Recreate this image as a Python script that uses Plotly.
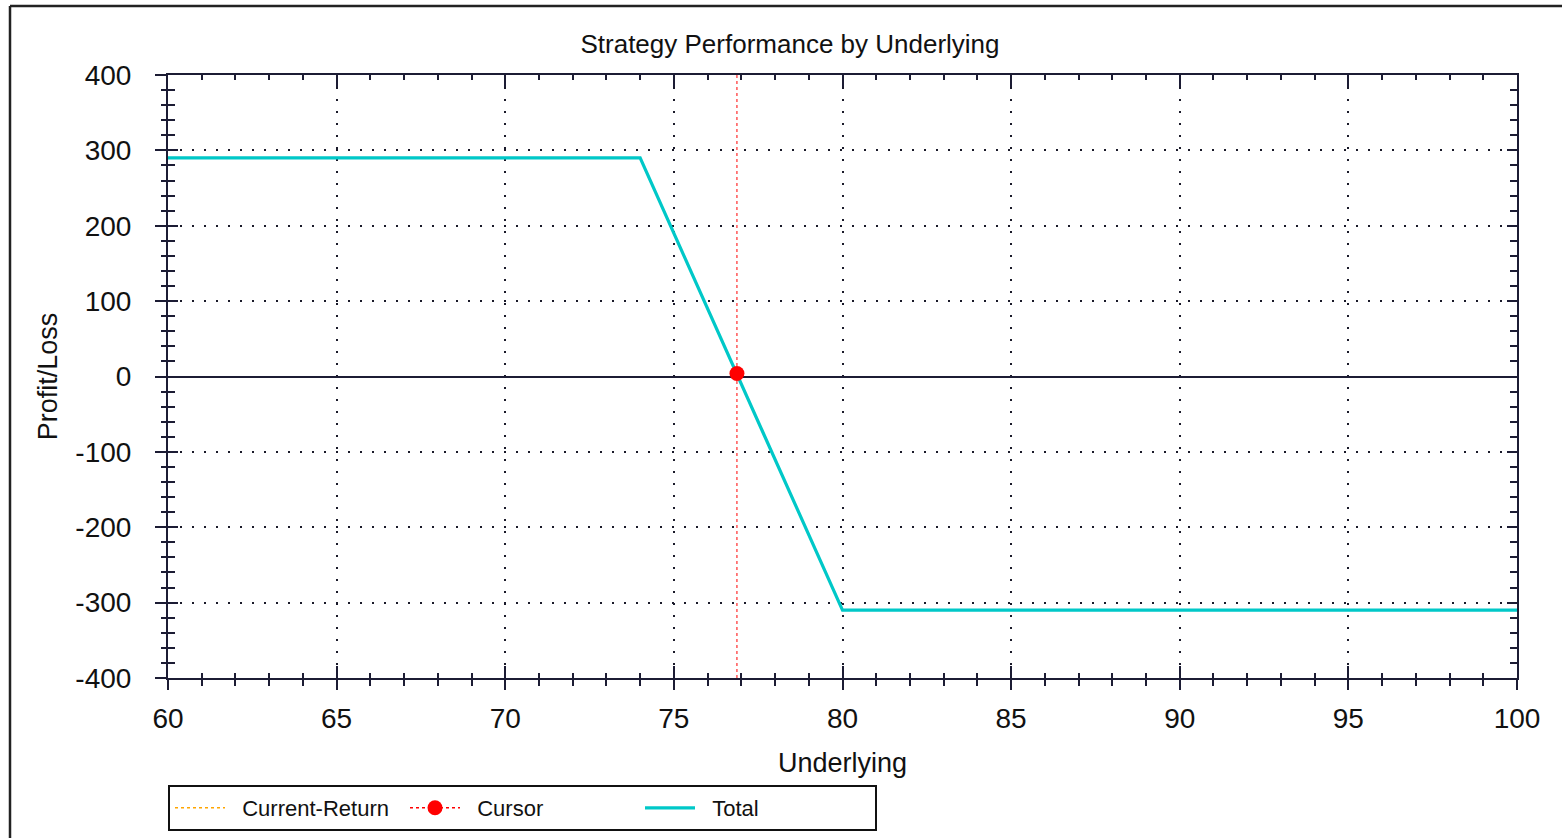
import plotly.graph_objects as go

# ---- data ----
total_x = [60, 74, 80, 100]
total_y = [290, 290, -310, -310]
cursor_x = [76.87]
cursor_y = [4]
cursor_line_y = [-400, 400]
x_ticks = [60, 65, 70, 75, 80, 85, 90, 95, 100]
y_ticks = [-400, -300, -200, -100, 0, 100, 200, 300, 400]
y_tick_text = ["-400", "-300", "-200", "-100", "0", "100", "200", "300", "400"]

FONT = "Liberation Sans, Arial, sans-serif"
AX = "#1c1c34"
PAD = "\u00a0\u00a0"

fig = go.Figure()

fig.add_trace(go.Scatter(x=[None], y=[None], mode="lines", name=PAD + "Current-Return",
                         line=dict(color="#ffa500", width=1.5, dash="dot"), legendrank=1))
fig.add_trace(go.Scatter(x=[cursor_x[0], cursor_x[0]], y=cursor_line_y, mode="lines",
                         line=dict(color="#ff0000", width=1, dash="dot"), showlegend=False,
                         hoverinfo="skip"))
fig.add_trace(go.Scatter(x=total_x, y=total_y, mode="lines", name=PAD + "Total",
                         line=dict(color="#00c8c8", width=3.2), legendrank=3))
fig.add_trace(go.Scatter(x=cursor_x, y=cursor_y, mode="lines+markers", name=PAD + "Cursor",
                         line=dict(color="#ff0000", width=1.5, dash="dot"),
                         marker=dict(color="#ff0000", size=15, symbol="circle"), legendrank=2))
# invisible trace for overlay axes
fig.add_trace(go.Scatter(x=[None], y=[None], xaxis="x2", yaxis="y2", showlegend=False,
                         hoverinfo="skip"))

fig.update_layout(
    width=1562, height=838,
    paper_bgcolor="white", plot_bgcolor="white",
    margin=dict(l=168, r=45, t=75, b=160, autoexpand=False),
    font=dict(family=FONT, color="#111111"),
    title=dict(text="Strategy Performance by Underlying", x=790/1562, xref="container",
               xanchor="center", y=1 - 44/838, yanchor="middle",
               font=dict(size=26, color="#111111")),
    showlegend=True,
    legend=dict(orientation="h", x=0, xanchor="left", y=-(785-678)/603, yanchor="top",
                bordercolor="#111111", borderwidth=2, font=dict(size=22),
                entrywidth=170, entrywidthmode="pixels", itemwidth=50, traceorder="normal"),
    xaxis=dict(range=[60, 100], tickvals=x_ticks, ticks="outside", ticklen=10,
               tickwidth=1.5, tickcolor=AX, showline=True, linecolor=AX, linewidth=2,
               minor=dict(ticks="outside", ticklen=6, dtick=1, tickwidth=1.5, tickcolor=AX,
                          showgrid=False),
               showgrid=True, gridcolor="#1a1a2a", gridwidth=1.5, griddash="2px,10px",
               zeroline=False, tickfont=dict(size=28), ticklabelstandoff=4,
               automargin=False,
               title=dict(text="Underlying", font=dict(size=27), standoff=21)),
    xaxis2=dict(range=[60, 100], overlaying="x", anchor="y", side="bottom", matches="x",
                tickvals=x_ticks, ticks="inside", ticklen=12, tickwidth=1.5, tickcolor=AX,
                showticklabels=False, showgrid=False, zeroline=False, mirror="ticks",
                showline=True, linecolor=AX, linewidth=2, automargin=False,
                minor=dict(ticks="inside", ticklen=5, dtick=1, tickwidth=1.5, tickcolor=AX)),
    yaxis=dict(range=[-400, 400], tickvals=y_ticks, ticktext=y_tick_text, ticks="outside",
               ticklen=11, tickwidth=1.5, tickcolor=AX, showline=True, linecolor=AX,
               linewidth=2,
               minor=dict(ticks="outside", ticklen=5, dtick=20, tickwidth=1.5, tickcolor=AX,
                          showgrid=False),
               showgrid=True, gridcolor="#1a1a2a", gridwidth=1.5, griddash="2px,10px",
               zeroline=True, zerolinecolor=AX, zerolinewidth=1.5,
               tickfont=dict(size=28), ticklabelstandoff=18, automargin=False,
               title=dict(text="Profit/Loss", font=dict(size=27), standoff=10)),
    yaxis2=dict(range=[-400, 400], overlaying="y", anchor="x", side="left", matches="y",
                tickvals=y_ticks, ticks="inside", ticklen=10, tickwidth=1.5, tickcolor=AX,
                showticklabels=False, showgrid=False, zeroline=False, mirror="ticks",
                showline=True, linecolor=AX, linewidth=2, automargin=False,
                minor=dict(ticks="inside", ticklen=7, dtick=20, tickwidth=1.5, tickcolor=AX)),
)

# window frame (top and left edges)
fig.add_shape(type="line", xref="paper", yref="paper",
              x0=(10-168)/1349, x1=(1562-168)/1349, y0=1+(75-6)/603, y1=1+(75-6)/603,
              line=dict(color="#222222", width=2.5))
fig.add_shape(type="line", xref="paper", yref="paper",
              x0=(10-168)/1349, x1=(10-168)/1349, y0=1+(75-6)/603, y1=-(838-678)/603,
              line=dict(color="#222222", width=2.5))

fig.write_html("out.html", config={"displayModeBar": False},
               post_script="document.body.style.margin='0';document.body.style.overflow='hidden';")
